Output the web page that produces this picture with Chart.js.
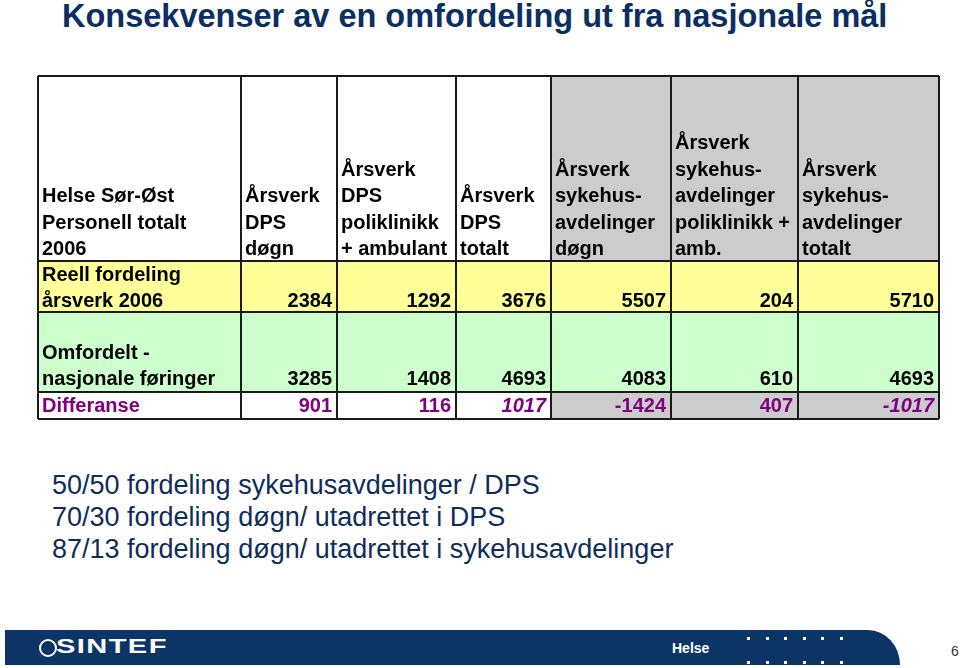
<!DOCTYPE html>
<html>
<head>
<meta charset="utf-8">
<script src="https://cdn.jsdelivr.net/npm/chart.js@4.4.0/dist/chart.umd.min.js"></script>
<style>
  body { margin: 0; width: 960px; height: 668px; background: #fff; position: relative; overflow: hidden; font-family: "Liberation Sans", Arial, sans-serif; }
  #title { position: absolute; left: 62px; top: -2px; font-size: 32.5px; font-weight: bold; color: #0b2f62; white-space: nowrap; }
  #table-wrap { position: absolute; left: 36px; top: 74px; }
  #notes { position: absolute; left: 52px; top: 469px; font-size: 27px; line-height: 32px; color: #0f2d5c; white-space: nowrap; }
  #footer { position: absolute; left: 5px; top: 630px; width: 895px; height: 35px; background: #0b3567; border-top-right-radius: 32px 35px; }
  #logo { position: absolute; left: 34px; top: 9px; width: 14px; height: 14px; border: 2px solid #fff; border-radius: 50%; }
  #logo-text { position: absolute; left: 51px; top: 5px; color: #fff; font-weight: bold; font-size: 20px; letter-spacing: 1px; transform: scaleX(1.45); transform-origin: left; }
  #helse { position: absolute; left: 667px; top: 10px; color: #fff; font-weight: bold; font-size: 14px; }
  .dot { position: absolute; width: 3px; height: 3px; background: #fff; }
  #page { position: absolute; left: 951px; top: 643px; font-size: 14px; color: #333; }
</style>
</head>
<body>
<div id="title">Konsekvenser av en omfordeling ut fra nasjonale mål</div>
<div id="table-wrap"><canvas id="table" width="905" height="347"></canvas></div>
<div id="notes">
  50/50 fordeling sykehusavdelinger / DPS<br>
  70/30 fordeling døgn/ utadrettet i DPS<br>
  87/13 fordeling døgn/ utadrettet i sykehusavdelinger
</div>
<div id="footer">
  <div id="logo"></div>
  <div id="logo-text">SINTEF</div>
  <div id="helse">Helse</div>
</div>
<div id="page">6</div>
<script>
// header texts per column
const headers = [
    ['Helse Sør-Øst', 'Personell totalt', '2006'],
    ['Årsverk', 'DPS', 'døgn'],
    ['Årsverk', 'DPS', 'poliklinikk', '+ ambulant'],
    ['Årsverk', 'DPS', 'totalt'],
    ['Årsverk', 'sykehus-', 'avdelinger', 'døgn'],
    ['Årsverk', 'sykehus-', 'avdelinger', 'poliklinikk +', 'amb.'],
    ['Årsverk', 'sykehus-', 'avdelinger', 'totalt']
];
const rowLabels = [
    ['Reell fordeling', 'årsverk 2006'],
    ['Omfordelt -', 'nasjonale føringer'],
    ['Differanse']
];
const reell = [2384, 1292, 3676, 5507, 204, 5710];
const omfordelt = [3285, 1408, 4693, 4083, 610, 4693];
const differanse = [901, 116, 1017, -1424, 407, -1017];

// layout
const colWidths = [203, 96, 119, 95, 120, 127, 141];
const rowHeights = [185, 51, 80, 27];
const baseOffsets = [5, 7, 7]; // baseline distance from bottom of each data row
const italicCols = [2, 5];
const WHITE = '#ffffff', GRAY = '#cccccc', YELLOW = '#ffff99', GREEN = '#ccffcc';
const rowFills = [
    [WHITE, WHITE, WHITE, WHITE, GRAY, GRAY, GRAY],
    [YELLOW, YELLOW, YELLOW, YELLOW, YELLOW, YELLOW, YELLOW],
    [GREEN, GREEN, GREEN, GREEN, GREEN, GREEN, GREEN],
    [WHITE, WHITE, WHITE, WHITE, GRAY, GRAY, GRAY]
];
const FONT = '"Liberation Sans", Arial, sans-serif';
const PURPLE = '#800080';

function edges(sizes) {
    const out = [0];
    sizes.forEach(s => out.push(out[out.length - 1] + s));
    return out;
}
const xe = edges(colWidths);
const ye = edges(rowHeights);

const rows = [reell, omfordelt, differanse];
const datasets = rows.map((vals, r) => ({
    label: rowLabels[r].join(' '),
    data: vals.map((v, c) => ({ x: xe[c + 2] - 5, y: ye[r + 2] - baseOffsets[r], v: v })),
    pointRadius: 0,
    showLine: false
}));

const tablePlugin = {
    id: 'tablePlugin',
    beforeDatasetsDraw(chart) {
        const { ctx, scales: { x, y } } = chart;
        const X = i => x.getPixelForValue(xe[i]);
        const Y = j => y.getPixelForValue(ye[j]);
        ctx.save();
        // cell fills
        rowFills.forEach((fills, r) => {
            fills.forEach((f, c) => {
                ctx.fillStyle = f;
                ctx.fillRect(X(c), Y(r), X(c + 1) - X(c), Y(r + 1) - Y(r));
            });
        });
        // grid lines
        ctx.strokeStyle = '#1a1a1a';
        ctx.lineWidth = 2;
        ctx.beginPath();
        xe.forEach((_, i) => { ctx.moveTo(X(i), Y(0)); ctx.lineTo(X(i), Y(ye.length - 1)); });
        ye.forEach((_, j) => { ctx.moveTo(X(0), Y(j)); ctx.lineTo(X(xe.length - 1), Y(j)); });
        ctx.stroke();
        // header text
        ctx.font = 'bold 20px ' + FONT;
        ctx.fillStyle = '#000';
        ctx.textAlign = 'left';
        ctx.textBaseline = 'alphabetic';
        headers.forEach((lines, c) => {
            const n = lines.length;
            lines.forEach((t, k) => {
                ctx.fillText(t, X(c) + 4, Y(1) - 6 - (n - 1 - k) * 26.5);
            });
        });
        // row labels
        rowLabels.forEach((lines, r) => {
            ctx.fillStyle = r === 2 ? PURPLE : '#000';
            const n = lines.length;
            lines.forEach((t, k) => {
                ctx.fillText(t, X(0) + 4, Y(r + 2) - baseOffsets[r] - (n - 1 - k) * 26.5);
            });
        });
        ctx.restore();
    },
    afterDatasetsDraw(chart) {
        const { ctx } = chart;
        ctx.save();
        ctx.textAlign = 'right';
        ctx.textBaseline = 'alphabetic';
        chart.data.datasets.forEach((ds, r) => {
            const meta = chart.getDatasetMeta(r);
            meta.data.forEach((el, c) => {
                const italic = r === 2 && italicCols.includes(c);
                ctx.font = (italic ? 'italic ' : '') + 'bold 20px ' + FONT;
                ctx.fillStyle = r === 2 ? PURPLE : '#000';
                ctx.fillText(String(ds.data[c].v), el.x, el.y);
            });
        });
        ctx.restore();
    }
};

new Chart(document.getElementById('table'), {
    type: 'scatter',
    data: { datasets: datasets },
    options: {
        responsive: false,
        animation: false,
        devicePixelRatio: 1,
        layout: { padding: 2 },
        plugins: { legend: { display: false }, tooltip: { enabled: false } },
        scales: {
            x: { type: 'linear', min: 0, max: xe[xe.length - 1], display: false },
            y: { type: 'linear', min: 0, max: ye[ye.length - 1], reverse: true, display: false }
        }
    },
    plugins: [tablePlugin]
});

// footer dots
const footer = document.getElementById('footer');
[0, 1].forEach(r => {
    for (let i = 0; i < 6; i++) {
        const d = document.createElement('div');
        d.className = 'dot';
        d.style.left = (742 + i * 18.6) + 'px';
        d.style.top = (7 + r * 24) + 'px';
        footer.appendChild(d);
    }
});
</script>
</body>
</html>
